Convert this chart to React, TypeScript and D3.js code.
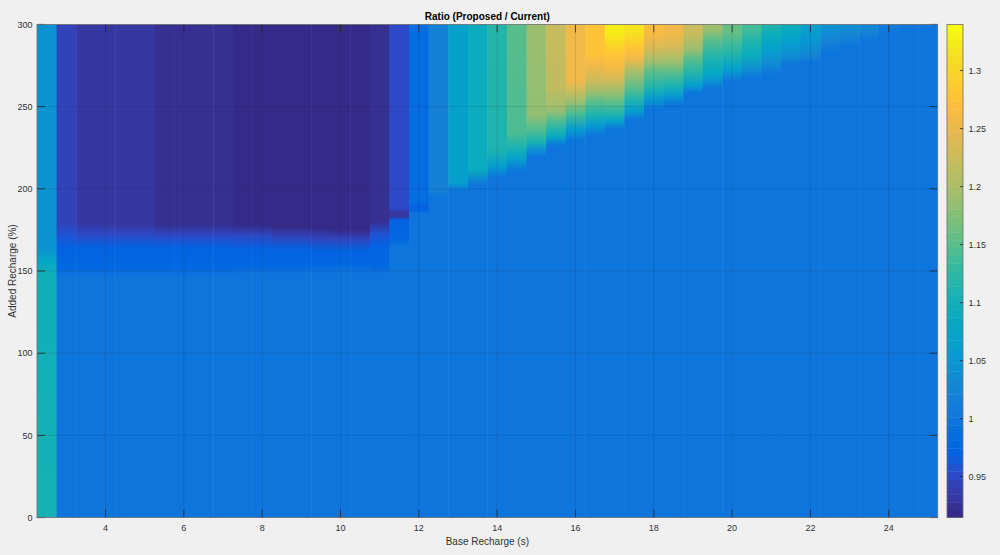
import React from "react";
import * as d3 from "d3";

// ---- data ----
const baseRecharge = [
  2.5, 3, 3.5, 4, 4.5, 5, 5.5, 6, 6.5, 7, 7.5, 8, 8.5, 9, 9.5, 10, 10.5, 11, 11.5, 12,
  12.5, 13, 13.5, 14, 14.5, 15, 15.5, 16, 16.5, 17, 17.5, 18, 18.5, 19, 19.5, 20, 20.5,
  21, 21.5, 22, 22.5, 23, 23.5, 24, 24.5, 25,
];

// For each Base Recharge column: [Added Recharge (%), ratio] knots, bottom to top
const ratioProfiles: [number, number][][] = [
  [[0, 1.103], [149, 1.1], [156, 1.075], [163, 1.045], [300, 1.042]], // 2.5
  [[0, 1.0], [147, 1.0], [152, 0.976], [164, 0.972], [172, 0.955], [179, 0.946], [300, 0.946]], // 3
  [[0, 1.0], [147, 1.0], [152, 0.976], [164, 0.972], [172, 0.952], [179, 0.931], [300, 0.931]], // 3.5
  [[0, 1.0], [147, 1.0], [152, 0.976], [164, 0.972], [172, 0.952], [179, 0.931], [300, 0.931]], // 4
  [[0, 1.0], [147, 1.0], [152, 0.976], [164, 0.972], [172, 0.952], [178, 0.93], [300, 0.93]], // 4.5
  [[0, 1.0], [147, 1.0], [152, 0.976], [164, 0.972], [172, 0.952], [178, 0.93], [300, 0.93]], // 5
  [[0, 1.0], [147, 1.0], [152, 0.976], [164, 0.972], [171, 0.95], [178, 0.925], [300, 0.925]], // 5.5
  [[0, 1.0], [147, 1.0], [152, 0.976], [164, 0.972], [171, 0.95], [178, 0.926], [300, 0.926]], // 6
  [[0, 1.0], [147, 1.0], [152, 0.976], [164, 0.972], [171, 0.95], [178, 0.927], [300, 0.927]], // 6.5
  [[0, 1.0], [147, 1.0], [152, 0.976], [164, 0.972], [171, 0.95], [178, 0.927], [300, 0.927]], // 7
  [[0, 1.0], [148, 1.0], [153, 0.976], [163, 0.972], [171, 0.948], [178, 0.918], [300, 0.918]], // 7.5
  [[0, 1.0], [148, 1.0], [153, 0.976], [163, 0.972], [171, 0.948], [178, 0.918], [300, 0.918]], // 8
  [[0, 1.0], [148, 1.0], [153, 0.976], [163, 0.972], [171, 0.946], [177, 0.918], [300, 0.918]], // 8.5
  [[0, 1.0], [148, 1.0], [153, 0.976], [163, 0.972], [171, 0.946], [177, 0.918], [300, 0.918]], // 9
  [[0, 1.0], [149, 1.0], [154, 0.976], [162, 0.972], [170, 0.945], [176, 0.918], [300, 0.918]], // 9.5
  [[0, 1.0], [149, 1.0], [154, 0.976], [162, 0.972], [170, 0.942], [175, 0.918], [300, 0.918]], // 10
  [[0, 1.0], [149, 1.0], [154, 0.976], [162, 0.972], [170, 0.942], [175, 0.918], [300, 0.918]], // 10.5
  [[0, 1.0], [148, 1.0], [153, 0.976], [165, 0.972], [172, 0.955], [180, 0.925], [300, 0.925]], // 11
  [[0, 1.0], [165, 1.0], [169, 0.975], [181, 0.972], [183, 0.93], [186, 0.93], [188, 0.952], [300, 0.952]], // 11.5
  [[0, 1.0], [185, 1.0], [187, 0.968], [190, 0.968], [192, 0.985], [300, 0.985]], // 12
  [[0, 1.0], [195, 1.0], [199, 1.018], [300, 1.018]], // 12.5
  [[0, 1.0], [199, 1.0], [204, 1.062], [300, 1.064]], // 13
  [[0, 1.0], [202, 1.0], [212, 1.089], [300, 1.091]], // 13.5
  [[0, 1.0], [207, 1.0], [214, 1.064], [224, 1.11], [300, 1.117]], // 14
  [[0, 1.0], [211, 1.0], [218, 1.064], [224, 1.104], [234, 1.145], [300, 1.15]], // 14.5
  [[0, 1.0], [219, 1.0], [224, 1.045], [229, 1.11], [237, 1.15], [245, 1.186], [300, 1.19]], // 15
  [[0, 1.0], [226, 1.0], [232, 1.085], [240, 1.136], [248, 1.19], [261, 1.22], [300, 1.223]], // 15.5
  [[0, 1.0], [229, 1.0], [236, 1.06], [245, 1.136], [253, 1.19], [259, 1.223], [266, 1.257], [300, 1.26]], // 16
  [[0, 1.0], [232, 1.0], [239, 1.06], [245, 1.11], [253, 1.15], [259, 1.19], [265, 1.223], [275, 1.257], [282, 1.277], [300, 1.28]], // 16.5
  [[0, 1.0], [236, 1.0], [241, 1.064], [245, 1.11], [252, 1.15], [259, 1.19], [265, 1.223], [272, 1.257], [281, 1.277], [288, 1.3], [294, 1.323], [300, 1.325]], // 17
  [[0, 1.0], [242, 1.0], [247, 1.06], [254, 1.11], [261, 1.15], [267, 1.175], [273, 1.21], [279, 1.257], [285, 1.28], [296, 1.316], [300, 1.316]], // 17.5
  [[0, 1.0], [248, 1.0], [255, 1.06], [261, 1.11], [271, 1.15], [277, 1.19], [283, 1.223], [291, 1.257], [300, 1.27]], // 18
  [[0, 1.0], [251, 1.0], [257, 1.06], [263, 1.11], [271, 1.15], [277, 1.19], [287, 1.24], [295, 1.257], [300, 1.257]], // 18.5
  [[0, 1.0], [258, 1.0], [263, 1.064], [271, 1.117], [279, 1.15], [285, 1.19], [295, 1.223], [300, 1.223]], // 19
  [[0, 1.0], [261, 1.0], [267, 1.06], [273, 1.09], [281, 1.117], [290, 1.15], [297, 1.19], [300, 1.19]], // 19.5
  [[0, 1.0], [265, 1.0], [273, 1.064], [281, 1.11], [289, 1.136], [295, 1.157], [300, 1.157]], // 20
  [[0, 1.0], [267, 1.0], [273, 1.04], [281, 1.09], [289, 1.11], [297, 1.136], [300, 1.136]], // 20.5
  [[0, 1.0], [269, 1.0], [277, 1.038], [285, 1.064], [293, 1.09], [299, 1.112], [300, 1.112]], // 21
  [[0, 1.0], [275, 1.0], [281, 1.038], [290, 1.064], [298, 1.09], [300, 1.091]], // 21.5
  [[0, 1.0], [277, 1.0], [281, 1.025], [288, 1.045], [297, 1.064], [300, 1.064]], // 22
  [[0, 1.0], [283, 1.0], [291, 1.025], [299, 1.045], [300, 1.045]], // 22.5
  [[0, 1.0], [287, 1.0], [293, 1.025], [300, 1.038]], // 23
  [[0, 1.0], [290, 1.0], [296, 1.022], [300, 1.025]], // 23.5
  [[0, 1.0], [295, 1.0], [300, 1.01]], // 24
  [[0, 1.0], [300, 1.0]], // 24.5
  [[0, 1.0], [300, 1.0]], // 25
];

const xTicks = [4, 6, 8, 10, 12, 14, 16, 18, 20, 22, 24];
const yTicks = [0, 50, 100, 150, 200, 250, 300];
const colorTicks = [0.95, 1, 1.05, 1.1, 1.15, 1.2, 1.25, 1.3];
const colorLimits = [0.9147, 1.3398];

const titleText = "Ratio (Proposed / Current)";
const xLabel = "Base Recharge (s)";
const yLabel = "Added Recharge (%)";

// MATLAB parula (64 entries)
const parula: number[][] = [
  [0.2081, 0.1663, 0.5292], [0.2116, 0.1898, 0.5777], [0.2123, 0.2138, 0.627], [0.2081, 0.2386, 0.6771],
  [0.1959, 0.2645, 0.7279], [0.1707, 0.2919, 0.7792], [0.1253, 0.3242, 0.8303], [0.0591, 0.3598, 0.8683],
  [0.0117, 0.3875, 0.882], [0.006, 0.4086, 0.8828], [0.0165, 0.4266, 0.8786], [0.0329, 0.443, 0.872],
  [0.0498, 0.4586, 0.8641], [0.0629, 0.4737, 0.8554], [0.0723, 0.4887, 0.8467], [0.0779, 0.504, 0.8384],
  [0.0793, 0.52, 0.8312], [0.0749, 0.5375, 0.8263], [0.0641, 0.557, 0.824], [0.0488, 0.5772, 0.8228],
  [0.0343, 0.5966, 0.8199], [0.0265, 0.6137, 0.8135], [0.0239, 0.6287, 0.8038], [0.0231, 0.6418, 0.7913],
  [0.0228, 0.6535, 0.7768], [0.0267, 0.6642, 0.7607], [0.0384, 0.6743, 0.7436], [0.059, 0.6838, 0.7254],
  [0.0843, 0.6928, 0.7062], [0.1133, 0.7015, 0.6859], [0.1453, 0.7098, 0.6646], [0.1801, 0.7177, 0.6424],
  [0.2178, 0.725, 0.6193], [0.2586, 0.7317, 0.5954], [0.3022, 0.7376, 0.5712], [0.3482, 0.7424, 0.5473],
  [0.3953, 0.7459, 0.5244], [0.442, 0.7481, 0.5033], [0.4871, 0.7491, 0.484], [0.53, 0.7491, 0.4661],
  [0.5709, 0.7485, 0.4494], [0.6099, 0.7473, 0.4337], [0.6473, 0.7456, 0.4188], [0.6834, 0.7435, 0.4044],
  [0.7184, 0.7411, 0.3905], [0.7525, 0.7384, 0.3768], [0.7858, 0.7356, 0.3633], [0.8185, 0.7327, 0.3498],
  [0.8507, 0.7299, 0.336], [0.8824, 0.7274, 0.3217], [0.9139, 0.7258, 0.3063], [0.945, 0.7261, 0.2886],
  [0.9739, 0.7314, 0.2666], [0.9938, 0.7455, 0.2403], [0.999, 0.7653, 0.2164], [0.9955, 0.7861, 0.1967],
  [0.988, 0.8066, 0.1794], [0.9789, 0.8271, 0.1633], [0.9697, 0.8481, 0.1475], [0.9626, 0.8705, 0.1309],
  [0.9589, 0.8949, 0.1132], [0.9598, 0.9218, 0.0948], [0.9661, 0.9514, 0.0755], [0.9763, 0.9831, 0.0538],
].map((c) => d3.rgb(c[0] * 255, c[1] * 255, c[2] * 255).formatHex());

const W = 1000;
const H = 555;
const FONT = "'Liberation Sans', Arial, Helvetica, sans-serif";

export default function App() {
  const plot = { left: 37, right: 937.7, top: 24.4, bottom: 517.6 };
  const x = d3.scaleLinear().domain([2.25, 25.25]).range([plot.left, plot.right]);
  const y = d3.scaleLinear().domain([0, 300]).range([plot.bottom, plot.top]);
  const color = d3.scaleQuantize<string>().domain(colorLimits).range(parula);
  const cb = { left: 947, right: 963 };
  const cy = d3.scaleLinear().domain(colorLimits).range([plot.bottom, plot.top]);
  const step = (colorLimits[1] - colorLimits[0]) / parula.length;
  const tickLen = 8;
  const axisColor = "#262626";

  return (
    <svg
      width={W}
      height={H}
      style={{ position: "fixed", left: 0, top: 0, background: "#f0f0f0" }}
      fontFamily={FONT}
    >
      <rect x={0} y={0} width={W} height={H} fill="#f0f0f0" />
      <defs>
        {ratioProfiles.map((prof, i) => (
          <linearGradient
            key={i}
            id={`col${i}`}
            gradientUnits="userSpaceOnUse"
            x1={0}
            x2={0}
            y1={y(0)}
            y2={y(300)}
          >
            {prof.map(([a, r], j) => (
              <stop key={j} offset={a / 300} stopColor={color(r)} />
            ))}
          </linearGradient>
        ))}
      </defs>

      {/* heatmap columns */}
      {baseRecharge.map((b, i) => {
        const x0 = x(b - 0.25);
        const x1 = x(b + 0.25);
        return (
          <rect
            key={i}
            x={x0}
            y={y(300)}
            width={x1 - x0 + (i < baseRecharge.length - 1 ? 0.5 : 0)}
            height={y(0) - y(300)}
            fill={`url(#col${i})`}
          />
        );
      })}

      {/* grid */}
      {xTicks.map((t) => (
        <line key={`gx${t}`} x1={x(t)} x2={x(t)} y1={plot.top} y2={plot.bottom} stroke={axisColor} strokeOpacity={0.15} strokeWidth={0.8} />
      ))}
      {yTicks.filter((t) => t > 0 && t < 300).map((t) => (
        <line key={`gy${t}`} x1={plot.left} x2={plot.right} y1={y(t)} y2={y(t)} stroke={axisColor} strokeOpacity={0.15} strokeWidth={0.8} />
      ))}

      {/* ticks on all four sides */}
      {xTicks.map((t) => (
        <g key={`tx${t}`} stroke={axisColor} strokeWidth={0.8}>
          <line x1={x(t)} x2={x(t)} y1={plot.bottom} y2={plot.bottom - tickLen} />
          <line x1={x(t)} x2={x(t)} y1={plot.top} y2={plot.top + tickLen} />
        </g>
      ))}
      {yTicks.map((t) => (
        <g key={`ty${t}`} stroke={axisColor} strokeWidth={0.8}>
          <line x1={plot.left} x2={plot.left + tickLen} y1={y(t)} y2={y(t)} />
          <line x1={plot.right} x2={plot.right - tickLen} y1={y(t)} y2={y(t)} />
        </g>
      ))}

      {/* axes box */}
      <rect
        x={plot.left}
        y={plot.top}
        width={plot.right - plot.left}
        height={plot.bottom - plot.top}
        fill="none"
        stroke="#6e6e6e"
        strokeWidth={0.8}
      />

      {/* tick labels */}
      {xTicks.map((t) => (
        <text key={`lx${t}`} x={x(t)} y={plot.bottom + 13.5} fontSize={9} fill="#333" textAnchor="middle">
          {t}
        </text>
      ))}
      {yTicks.map((t) => (
        <text key={`ly${t}`} x={plot.left - 4.5} y={y(t) + 3.2} fontSize={9} fill="#333" textAnchor="end">
          {t}
        </text>
      ))}

      {/* title and axis labels */}
      <text x={(plot.left + plot.right) / 2} y={19.5} fontSize={10} fontWeight="bold" fill="#000" textAnchor="middle">
        {titleText}
      </text>
      <text x={(plot.left + plot.right) / 2} y={544.5} fontSize={10} fill="#333" textAnchor="middle">
        {xLabel}
      </text>
      <text
        transform={`translate(15.5, ${(plot.top + plot.bottom) / 2}) rotate(-90)`}
        fontSize={10}
        fill="#333"
        textAnchor="middle"
      >
        {yLabel}
      </text>

      {/* colorbar */}
      {parula.map((c, k) => {
        const v0 = colorLimits[0] + k * step;
        const v1 = v0 + step;
        return (
          <rect
            key={`cb${k}`}
            x={cb.left}
            y={cy(v1)}
            width={cb.right - cb.left}
            height={cy(v0) - cy(v1) + 0.4}
            fill={c}
          />
        );
      })}
      <rect
        x={cb.left}
        y={plot.top}
        width={cb.right - cb.left}
        height={plot.bottom - plot.top}
        fill="none"
        stroke="#6e6e6e"
        strokeWidth={0.8}
      />
      {colorTicks.map((t) => (
        <g key={`ct${t}`}>
          <line x1={cb.right} x2={cb.right - 3} y1={cy(t)} y2={cy(t)} stroke={axisColor} strokeWidth={0.8} />
          <text x={cb.right + 5.5} y={cy(t) + 3.2} fontSize={9} fill="#333">
            {t}
          </text>
        </g>
      ))}
    </svg>
  );
}
